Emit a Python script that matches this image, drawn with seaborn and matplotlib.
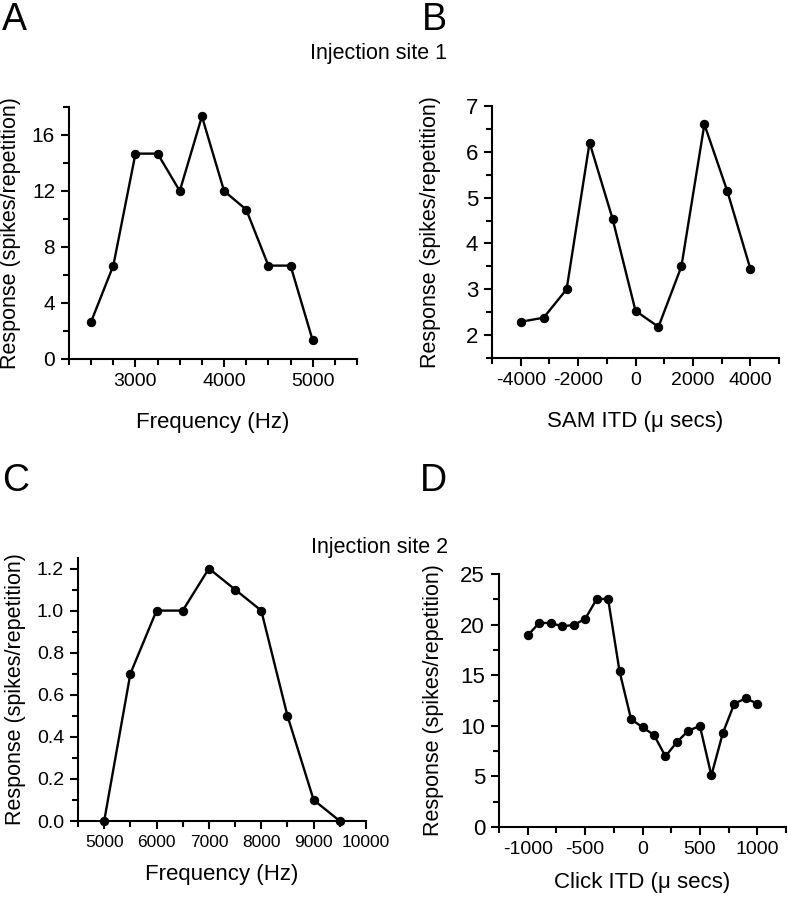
import numpy as np
import pandas as pd
import matplotlib
matplotlib.use("Agg")
import matplotlib.pyplot as plt
from matplotlib.ticker import FixedLocator
import seaborn as sns

# ---- data ----
freq_a = [2500, 2750, 3000, 3250, 3500, 3750, 4000, 4250, 4500, 4750, 5000]
resp_a = [2.67, 6.67, 14.67, 14.67, 12.0, 17.33, 12.0, 10.67, 6.67, 6.67, 1.33]

itd_b = [-4000, -3200, -2400, -1600, -800, 0, 800, 1600, 2400, 3200, 4000]
resp_b = [2.29, 2.38, 3.0, 6.2, 4.54, 2.53, 2.18, 3.5, 6.6, 5.14, 3.45]

freq_c = [5000, 5500, 6000, 6500, 7000, 7500, 8000, 8500, 9000, 9500]
resp_c = [0.0, 0.7, 1.0, 1.0, 1.2, 1.1, 1.0, 0.5, 0.1, 0.0]

itd_d = [-1000, -900, -800, -700, -600, -500, -400, -300, -200, -100, 0,
         100, 200, 300, 400, 500, 600, 700, 800, 900, 1000]
resp_d = [18.94, 20.16, 20.16, 19.83, 19.96, 20.55, 22.5, 22.56, 15.38, 10.67,
          9.85, 9.09, 6.98, 8.4, 9.52, 9.98, 5.1, 9.29, 12.19, 12.71, 12.19]

ylabel = "Response (spikes/repetition)"

sns.set_style("ticks")
plt.rcParams['font.family'] = ['Liberation Sans', 'DejaVu Sans']
plt.rcParams['axes.unicode_minus'] = False
for k in ['text.color', 'axes.labelcolor', 'xtick.color', 'ytick.color', 'axes.edgecolor']:
    plt.rcParams[k] = 'black'
plt.rcParams['axes.linewidth'] = 1.5
for k in ['xtick.major.width', 'ytick.major.width', 'xtick.minor.width', 'ytick.minor.width']:
    plt.rcParams[k] = 1.5
plt.rcParams['xtick.major.size'] = 6
plt.rcParams['ytick.major.size'] = 6
plt.rcParams['xtick.minor.size'] = 4
plt.rcParams['ytick.minor.size'] = 4
plt.rcParams['xtick.direction'] = 'out'
plt.rcParams['ytick.direction'] = 'out'

W, H = 788, 900
fig = plt.figure(figsize=(W / 100, H / 100), dpi=100)


def px_axes(left, right, top, bottom):
    return fig.add_axes([left / W, 1 - bottom / H, (right - left) / W, (bottom - top) / H])


def draw(ax, x, y, xlim, ylim, xmaj, xmin, ymaj, ymin, xlabel,
         xts=14, yts=15, xpad=8, ypad=6):
    df = pd.DataFrame({"x": x, "y": y})
    sns.lineplot(data=df, x="x", y="y", ax=ax, color="black", linewidth=1.7,
                 marker="o", markersize=6, markeredgecolor="black",
                 markerfacecolor="black", clip_on=False, sort=False)
    ax.set_xlim(*xlim)
    ax.set_ylim(*ylim)
    ax.xaxis.set_major_locator(FixedLocator(xmaj))
    ax.xaxis.set_minor_locator(FixedLocator(xmin))
    ax.yaxis.set_major_locator(FixedLocator(ymaj))
    ax.yaxis.set_minor_locator(FixedLocator(ymin))
    sns.despine(ax=ax)
    ax.tick_params(axis='x', which='major', labelsize=xts, pad=4)
    ax.tick_params(axis='y', which='major', labelsize=yts, pad=4)
    ax.set_xlabel(xlabel, fontsize=16, labelpad=xpad)
    ax.set_ylabel(ylabel, fontsize=15.5, labelpad=ypad)


# Panel A
axA = px_axes(69, 357, 107, 359)
draw(axA, freq_a, resp_a, (2250, 5500), (0, 18),
     [3000, 4000, 5000], [2250, 2500, 2750, 3250, 3500, 3750, 4250, 4500, 4750, 5250, 5500],
     [0, 4, 8, 12, 16], [2, 6, 10, 14, 18], "Frequency (Hz)",
     xts=14, yts=15, xpad=16, ypad=8)

# Panel B
axB = px_axes(492, 779, 106, 358)
draw(axB, itd_b, resp_b, (-5000, 5000), (1.5, 7),
     [-4000, -2000, 0, 2000, 4000], [-5000, -3000, -1000, 1000, 3000, 5000],
     [2, 3, 4, 5, 6, 7], [1.5, 2.5, 3.5, 4.5, 5.5, 6.5], "SAM ITD (\u03bc secs)",
     xts=14, yts=16, xpad=16, ypad=18)

# Panel C
axC = px_axes(78, 366, 558, 821)
draw(axC, freq_c, resp_c, (4500, 10000), (0, 1.25),
     [5000, 6000, 7000, 8000, 9000, 10000], [4500, 5500, 6500, 7500, 8500, 9500],
     [0, 0.2, 0.4, 0.6, 0.8, 1.0, 1.2], [0.1, 0.3, 0.5, 0.7, 0.9, 1.1], "Frequency (Hz)",
     xts=12.5, yts=14, xpad=10, ypad=8)
axC.set_yticklabels(["0.0", "0.2", "0.4", "0.6", "0.8", "1.0", "1.2"])

# Panel D
axD = px_axes(499, 786, 574, 827)
draw(axD, itd_d, resp_d, (-1250, 1250), (0, 25),
     [-1000, -500, 0, 500, 1000], [-1250, -750, -250, 250, 750, 1250],
     [0, 5, 10, 15, 20, 25], [2.5, 7.5, 12.5, 17.5, 22.5], "Click ITD (\u03bc secs)",
     xts=14, yts=16, xpad=10, ypad=12)

# Panel letters and site labels
fig.text(2 / W, 1 - 2 / H, "A", fontsize=27, va='top', ha='left')
fig.text(422 / W, 1 - 2 / H, "B", fontsize=27, va='top', ha='left')
fig.text(2 / W, 1 - 463 / H, "C", fontsize=27, va='top', ha='left')
fig.text(420 / W, 1 - 463 / H, "D", fontsize=27, va='top', ha='left')
fig.text(379 / W, 1 - 53 / H, "Injection site 1", fontsize=15.5, ha='center', va='center')
fig.text(380 / W, 1 - 547 / H, "Injection site 2", fontsize=15.5, ha='center', va='center')

fig.savefig("out.png", dpi=100)
